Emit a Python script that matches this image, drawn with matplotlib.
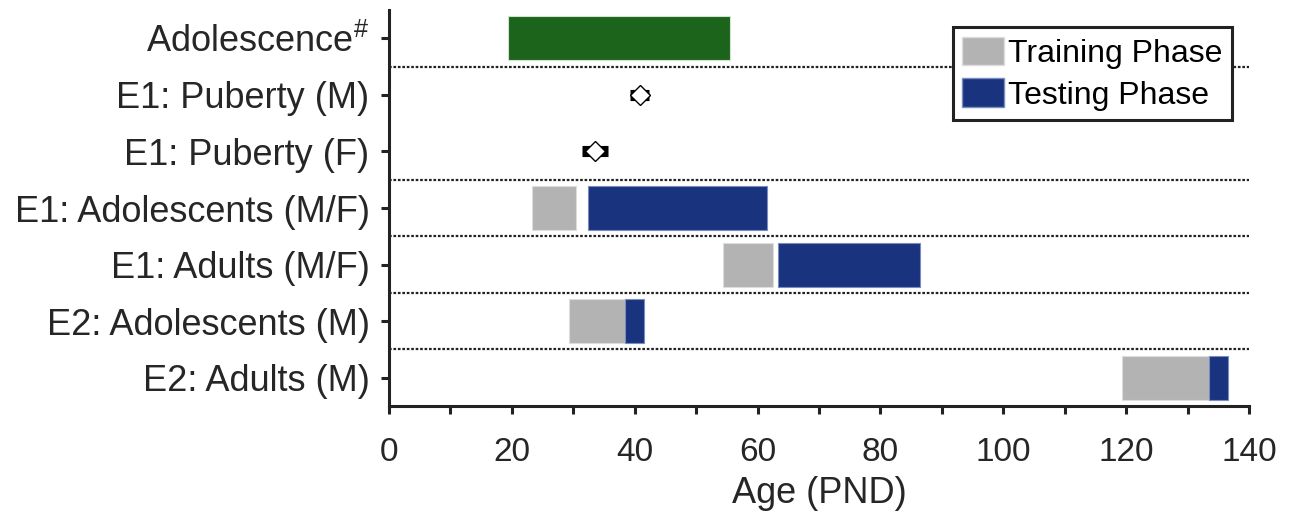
import matplotlib
matplotlib.use("Agg")
import matplotlib.pyplot as plt
from matplotlib.patches import Patch

plt.rcParams['font.family'] = ['Liberation Sans', 'DejaVu Sans']
plt.rcParams['mathtext.fontset'] = 'custom'
plt.rcParams['mathtext.rm'] = 'Liberation Sans'
plt.rcParams['mathtext.it'] = 'Liberation Sans'

categories = ["Adolescence$^{\\#}$", "E1: Puberty (M)", "E1: Puberty (F)",
              "E1: Adolescents (M/F)", "E1: Adults (M/F)",
              "E2: Adolescents (M)", "E2: Adults (M)"]

# Adolescence window (row 0)
adolescence_start = 19.4
adolescence_end = 55.5

# Puberty onset: mean and half-range (rows 1, 2)
puberty_rows = [1, 2]
puberty_mean = [40.8, 33.5]
puberty_err = [1.6, 2.1]

# Training / testing phases (rows 3-6)
phase_rows = [3, 4, 5, 6]
train_start = [23.3, 54.4, 29.3, 119.3]
train_end = [30.4, 62.5, 38.4, 133.5]
test_start = [32.4, 63.3, 38.4, 133.5]
test_end = [61.5, 86.4, 41.5, 136.6]

separators = [0.5, 2.5, 3.5, 4.5, 5.5]

GREEN = '#1c641c'
GRAY = '#b3b3b3'
BLUE = '#1a337e'
TXT = '#262626'

fig = plt.figure(figsize=(12.94, 5.21), dpi=100)
ax = fig.add_axes([0.3006, 0.2207, 0.6646, 0.7601])

h = 0.78
for y in separators:
    ax.axhline(y, color='#222222', ls=(0, (1.2, 0.8)), lw=1.6, zorder=1)

ax.barh(0, adolescence_end - adolescence_start, left=adolescence_start, height=h,
        color=GREEN, edgecolor='#cfe3cf', linewidth=0.8, zorder=2)

for r, s, e in zip(phase_rows, train_start, train_end):
    ax.barh(r, e - s, left=s, height=h, color=GRAY, edgecolor='#dddddd',
            linewidth=0.8, zorder=2)
for r, s, e in zip(phase_rows, test_start, test_end):
    ax.barh(r, e - s, left=s, height=h, color=BLUE, edgecolor='#7a8cc0',
            linewidth=0.8, zorder=2)

for r, m, er in zip(puberty_rows, puberty_mean, puberty_err):
    ax.plot([m - er, m + er], [r, r], color='black', lw=8,
            solid_capstyle='butt', zorder=3)
    ax.plot([m], [r], marker='D', ms=10, mfc='white', mec='black',
            mew=1.0, ls='none', zorder=4)

ax.set_xlim(0, 140)
ax.set_ylim(6.5, -0.5)
ax.set_yticks(range(len(categories)))
ax.set_yticklabels(categories, fontsize=26, color=TXT)
ax.set_xticks(range(0, 141, 10))
ax.set_xticklabels([str(v) if v % 20 == 0 else '' for v in range(0, 141, 10)],
                   fontsize=24, color=TXT)
ax.set_xlabel('Age (PND)', fontsize=26, labelpad=6, color=TXT)

for side in ['top', 'right']:
    ax.spines[side].set_visible(False)
for side in ['left', 'bottom']:
    ax.spines[side].set_linewidth(2.2)
    ax.spines[side].set_color('#222222')
ax.tick_params(axis='both', direction='out', length=6, width=2.2, color='#222222')
ax.tick_params(axis='y', pad=8)
ax.tick_params(axis='x', pad=16)

handles = [Patch(facecolor=GRAY, edgecolor='#dddddd', label='Training Phase'),
           Patch(facecolor=BLUE, edgecolor='#7a8cc0', label='Testing Phase')]
leg = ax.legend(handles=handles, loc='upper right', bbox_to_anchor=(0.98, 0.957),
                fontsize=23, frameon=True, fancybox=False, framealpha=1,
                handlelength=1.3, handleheight=1.0, handletextpad=0.12,
                borderpad=0.3, labelspacing=0.3, borderaxespad=0)
leg.get_frame().set_edgecolor('#222222')
leg.get_frame().set_linewidth(2.2)
leg.set_zorder(5)
for t in leg.get_texts():
    t.set_color('black')

fig.savefig('out.png', dpi=100)
